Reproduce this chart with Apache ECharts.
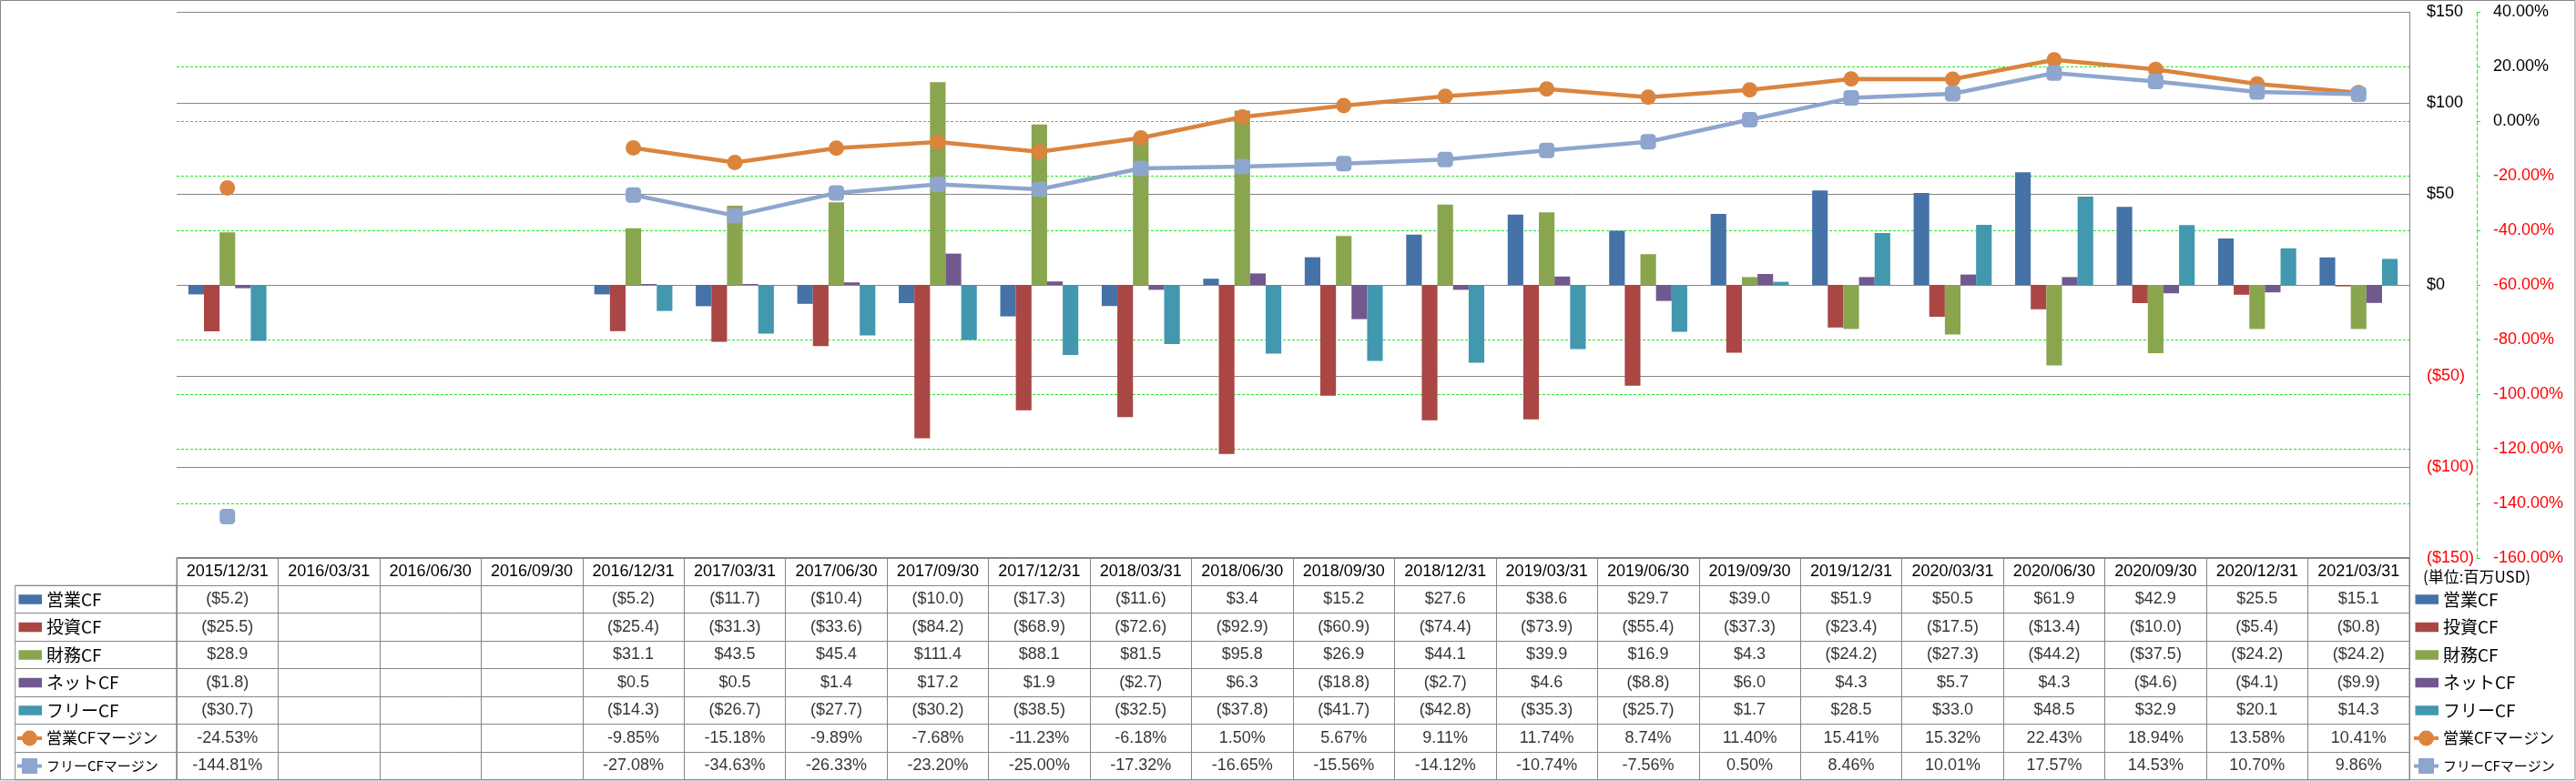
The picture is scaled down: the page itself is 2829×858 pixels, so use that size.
<!DOCTYPE html>
<html><head><meta charset="utf-8">
<script src="https://cdn.jsdelivr.net/npm/echarts@6/dist/echarts.min.js"></script>
<style>html,body{margin:0;padding:0;background:#fff}#c{width:2829px;height:858px}</style>
</head><body><div id="c"></div>
<script>
// ---------- data ----------
const categories = ['2015/12/31','2016/03/31','2016/06/30','2016/09/30','2016/12/31','2017/03/31','2017/06/30','2017/09/30','2017/12/31','2018/03/31','2018/06/30','2018/09/30','2018/12/31','2019/03/31','2019/06/30','2019/09/30','2019/12/31','2020/03/31','2020/06/30','2020/09/30','2020/12/31','2021/03/31'];
const opCF   = [-5.2, null, null, null, -5.2, -11.7, -10.4, -10.0, -17.3, -11.6, 3.4, 15.2, 27.6, 38.6, 29.7, 39.0, 51.9, 50.5, 61.9, 42.9, 25.5, 15.1];
const invCF  = [-25.5, null, null, null, -25.4, -31.3, -33.6, -84.2, -68.9, -72.6, -92.9, -60.9, -74.4, -73.9, -55.4, -37.3, -23.4, -17.5, -13.4, -10.0, -5.4, -0.8];
const finCF  = [28.9, null, null, null, 31.1, 43.5, 45.4, 111.4, 88.1, 81.5, 95.8, 26.9, 44.1, 39.9, 16.9, 4.3, -24.2, -27.3, -44.2, -37.5, -24.2, -24.2];
const netCF  = [-1.8, null, null, null, 0.5, 0.5, 1.4, 17.2, 1.9, -2.7, 6.3, -18.8, -2.7, 4.6, -8.8, 6.0, 4.3, 5.7, 4.3, -4.6, -4.1, -9.9];
const freeCF = [-30.7, null, null, null, -14.3, -26.7, -27.7, -30.2, -38.5, -32.5, -37.8, -41.7, -42.8, -35.3, -25.7, 1.7, 28.5, 33.0, 48.5, 32.9, 20.1, 14.3];
const opMargin   = [-24.53, null, null, null, -9.85, -15.18, -9.89, -7.68, -11.23, -6.18, 1.50, 5.67, 9.11, 11.74, 8.74, 11.40, 15.41, 15.32, 22.43, 18.94, 13.58, 10.41];
const freeMargin = [-144.81, null, null, null, -27.08, -34.63, -26.33, -23.20, -25.00, -17.32, -16.65, -15.56, -14.12, -10.74, -7.56, 0.50, 8.46, 10.01, 17.57, 14.53, 10.70, 9.86];
const seriesNames = ['営業CF','投資CF','財務CF','ネットCF','フリーCF','営業CFマージン','フリーCFマージン'];
const unitLabel = '(単位:百万USD)';
const dollarAxis = {min: -150, max: 150, interval: 50};
const percentAxis = {min: -160, max: 40, interval: 20};

// ---------- styles ----------
const colors = ['#4572A7','#AA4643','#89A54E','#71588F','#4198AF','#DB843D','#8EA6CE'];
const GRAY = '#868686', GREEN = '#22E622', RED = '#FF0000';
const LATIN = '"Liberation Sans", Arial, sans-serif';
const CJK = '"Noto Sans CJK JP", "Noto Sans", sans-serif';
const plotL = 194, plotW = 2452, plotT = 13, plotH = 600;
const tableTop = 612.7, rowH = 30.5;
const LH = 19;

const barValues = [opCF, invCF, finCF, netCF, freeCF];
const lineValues = [opMargin, freeMargin];
const rowValues = [opCF, invCF, finCF, netCF, freeCF, opMargin, freeMargin];

const fmtDollar = v => v < 0 ? '($' + (-v).toFixed(1) + ')' : '$' + v.toFixed(1);
const fmtPct = v => v.toFixed(2) + '%';

const barIcon = 'path://M0,0h0.01v0.01h-0.01zM26.99,16.99h0.01v0.01h-0.01zM1.5,3.2h25.5v10.7h-25.5z';
const circleIcon = 'path://M0,6.5h5.2v4h-5.2zM21.8,6.5h5.2v4h-5.2zM5,8.5A8.5,8.5 0 0 1 22,8.5A8.5,8.5 0 0 1 5,8.5z';
const squareIcon = 'path://M0,6.5h5.2v4h-5.2zM21.8,6.5h5.2v4h-5.2zM5,0h17v17h-17z';
const legendFont = [19, 19, 19, 19, 19, 17, 15];

function legendData() {
  return seriesNames.map((n, i) => ({
    name: n,
    icon: i < 5 ? barIcon : (i === 5 ? circleIcon : squareIcon),
    itemStyle: {color: colors[i], borderWidth: 0},
    textStyle: {fontSize: legendFont[i], fontFamily: CJK, color: '#000', lineHeight: LH}
  }));
}
function legendAt(left) {
  return {
    orient: 'vertical', left: left, top: tableTop + rowH + (rowH - LH) / 2, height: 212,
    itemGap: rowH - LH, itemWidth: 27, itemHeight: 17, padding: 0,
    selectedMode: false, data: legendData(),
    textStyle: {fontSize: 17, fontFamily: CJK, color: '#000', lineHeight: LH}
  };
}

const series = [];
barValues.forEach((arr, i) => series.push({
  type: 'bar', name: seriesNames[i], data: arr, xAxisIndex: 0, yAxisIndex: 0,
  barGap: '0%', barCategoryGap: '23.08%', itemStyle: {color: colors[i]}, z: 3, silent: true
}));
lineValues.forEach((arr, j) => {
  const i = 5 + j;
  series.push({
    type: 'line', name: seriesNames[i], data: arr, xAxisIndex: 0, yAxisIndex: 1,
    symbol: j === 0 ? 'circle' : 'roundRect', symbolSize: 17, showSymbol: true, showAllSymbol: true,
    connectNulls: false, lineStyle: {width: 4.5, color: colors[i]},
    itemStyle: {color: colors[i], borderWidth: 0}, z: 4 + j, silent: true
  });
});
rowValues.forEach((arr, r) => {
  const fmt = r < 5 ? fmtDollar : fmtPct;
  const data = [];
  arr.forEach((v, i) => { if (v !== null) data.push([i, r + 1, v]); });
  series.push({
    type: 'scatter', name: 'cell' + r, xAxisIndex: 1, yAxisIndex: 2, data: data,
    symbolSize: 1, itemStyle: {color: 'rgba(0,0,0,0)'}, silent: true, z: 5,
    label: {show: true, position: 'inside', formatter: p => fmt(p.value[2]),
      fontSize: 18, fontFamily: LATIN, color: '#000'}
  });
});

const option = {
  animation: false,
  backgroundColor: '#fff',
  title: {text: unitLabel, left: 2661, top: 625, padding: 0,
    textStyle: {fontSize: 17, fontWeight: 'normal', color: '#000', fontFamily: CJK}},
  legend: [legendAt(19), legendAt(2651)],
  grid: [
    {left: plotL, top: plotT, width: plotW, height: plotH, containLabel: false},
    {left: plotL, top: tableTop, width: plotW, height: rowH * 8, show: true, borderColor: GRAY, borderWidth: 1},
    {left: 16.7, top: tableTop + rowH, width: plotL - 16.7, height: rowH * 7, show: true, borderColor: GRAY, borderWidth: 1}
  ],
  xAxis: [
    {type: 'category', gridIndex: 0, data: categories, show: false},
    {type: 'category', gridIndex: 1, data: categories, position: 'top',
      axisLine: {show: false}, axisTick: {show: false},
      axisLabel: {inside: true, interval: 0, margin: 6, fontSize: 18, lineHeight: 18, fontFamily: LATIN, color: '#000'},
      splitLine: {show: true, interval: 0, lineStyle: {color: GRAY, width: 1}}},
    {type: 'value', gridIndex: 2, show: false}
  ],
  yAxis: [
    {type: 'value', gridIndex: 0, position: 'right', min: dollarAxis.min, max: dollarAxis.max, interval: dollarAxis.interval, z: 2,
      axisLine: {show: true, lineStyle: {color: GRAY, width: 1}}, axisTick: {show: false},
      splitLine: {show: true, lineStyle: {color: GRAY, width: 1}},
      axisLabel: {margin: 19, fontSize: 18, fontFamily: LATIN,
        formatter: v => v < 0 ? '($' + (-v) + ')' : '$' + v,
        color: v => Number(v) < 0 ? RED : '#000'}},
    {type: 'value', gridIndex: 0, position: 'right', offset: 74, min: percentAxis.min, max: percentAxis.max, interval: percentAxis.interval, z: 1,
      axisLine: {show: true, lineStyle: {color: GREEN, width: 1, type: [4, 3]}},
      axisTick: {show: true, length: 4, lineStyle: {color: GREEN, width: 1}},
      splitLine: {show: true, lineStyle: {color: GREEN, width: 1, type: [3, 2]}},
      axisLabel: {margin: 18, fontSize: 18, fontFamily: LATIN,
        formatter: v => Number(v).toFixed(2) + '%',
        color: v => Number(v) < 0 ? RED : '#000'}},
    {type: 'category', gridIndex: 1, data: [0,1,2,3,4,5,6,7], inverse: true,
      axisLine: {show: false}, axisTick: {show: false}, axisLabel: {show: false},
      splitLine: {show: true, interval: 0, lineStyle: {color: GRAY, width: 1}}},
    {type: 'category', gridIndex: 2, data: [0,1,2,3,4,5,6], inverse: true,
      axisLine: {show: false}, axisTick: {show: false}, axisLabel: {show: false},
      splitLine: {show: true, interval: 0, lineStyle: {color: GRAY, width: 1}}}
  ],
  graphic: [{type: 'rect', silent: true, z: 100,
    shape: {x: 0.5, y: 0.5, width: 2827.5, height: 856.2},
    style: {fill: 'none', stroke: GRAY, lineWidth: 1}}],
  series: series
};
const chart = echarts.init(document.getElementById('c'), null, {renderer: 'canvas'});
chart.setOption(option);
</script></body></html>
